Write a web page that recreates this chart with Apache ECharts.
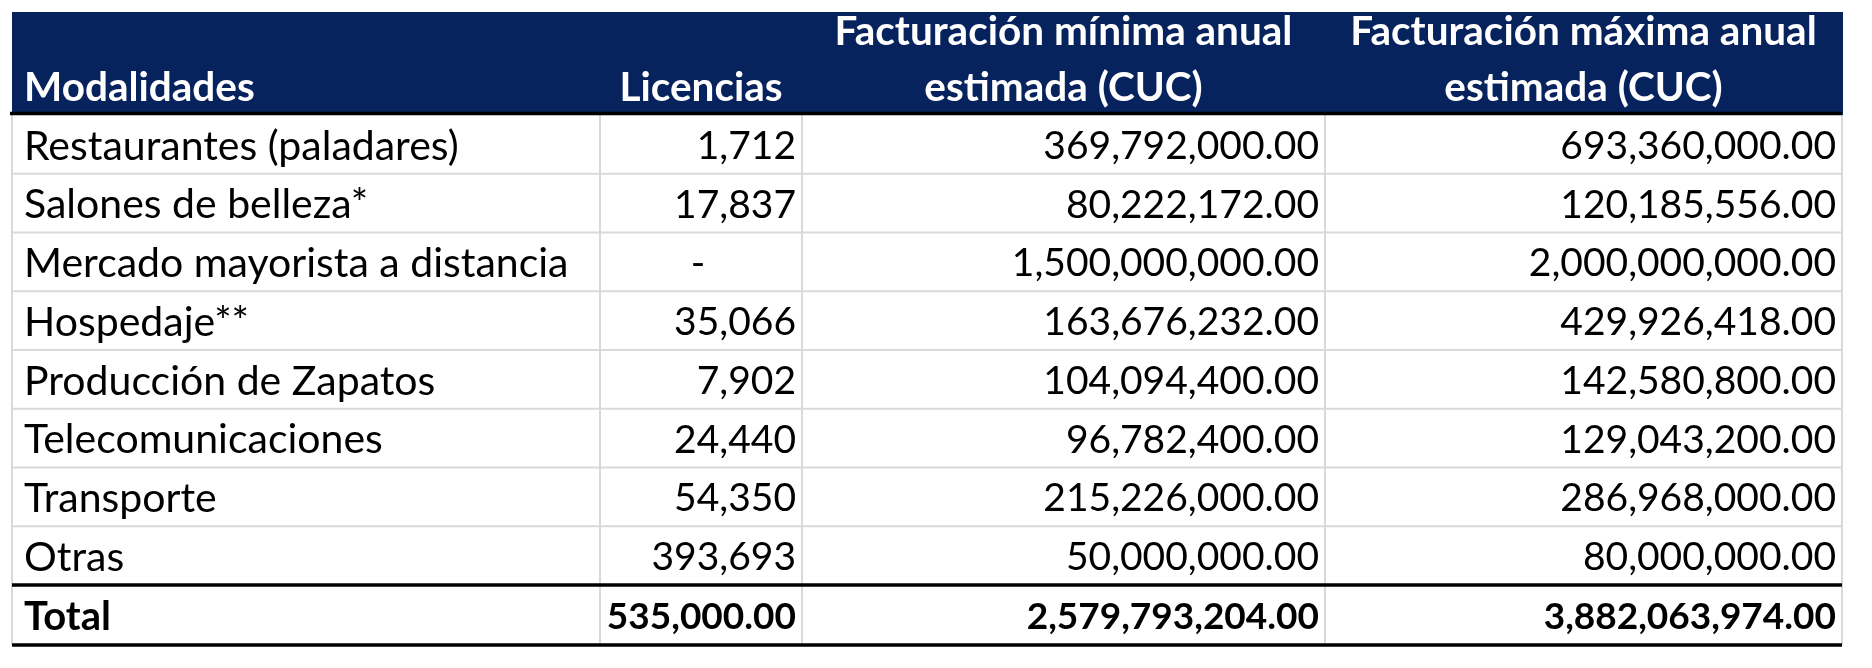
<!DOCTYPE html>
<html><head><meta charset="utf-8">
<script src="https://cdn.jsdelivr.net/npm/echarts@6/dist/echarts.min.js"></script>
<style>html,body{margin:0;padding:0;background:#fff}#c{width:1872px;height:668px}</style>
</head><body><div id="c"></div>
<script>
// ---- data ----
const headers = ['Modalidades', 'Licencias', 'Facturación mínima anual\nestimada (CUC)', 'Facturación máxima anual\nestimada (CUC)'];
const modalidades = ['Restaurantes (paladares)', 'Salones de belleza*', 'Mercado mayorista a distancia', 'Hospedaje**', 'Producción de Zapatos', 'Telecomunicaciones', 'Transporte', 'Otras'];
const licencias = [1712, 17837, null, 35066, 7902, 24440, 54350, 393693];
const factMin = [369792000, 80222172, 1500000000, 163676232, 104094400, 96782400, 215226000, 50000000];
const factMax = [693360000, 120185556, 2000000000, 429926418, 142580800, 129043200, 286968000, 80000000];
const totalLabel = 'Total';
const totalValues = [535000, 2579793204, 3882063974];

// ---- layout (not data) ----
const colEdges = [0, 588, 790, 1313, 1830];
const rowEdges = [0, 103, 161.75, 220.5, 279.25, 338, 396.75, 455.5, 514.25, 573, 633];
const FONT = 'Lato';
const FS_LABEL = 41;
const FS_LABEL_B = 40;
const FS_NUM = 39;
const FS_NUM_B = 37;
const FS_HEAD = 40.5;
const NAVY = '#07235e';
const GRAY = '#d9d9d9';

function fmt(v, dec) {
  if (v === null || v === undefined) return '-';
  return v.toLocaleString('en-US', {minimumFractionDigits: dec, maximumFractionDigits: dec});
}

// build cells
const cells = [];
headers.forEach((h, c) => cells.push({c, r: 0, text: h, kind: 'header'}));
modalidades.forEach((m, i) => {
  const r = i + 1;
  cells.push({c: 0, r, text: m, kind: 'label'});
  cells.push({c: 1, r, text: fmt(licencias[i], 0), kind: licencias[i] === null ? 'dash' : 'num'});
  cells.push({c: 2, r, text: fmt(factMin[i], 2), kind: 'num'});
  cells.push({c: 3, r, text: fmt(factMax[i], 2), kind: 'num'});
});
cells.push({c: 0, r: 9, text: totalLabel, kind: 'label', bold: true});
totalValues.forEach((v, j) => cells.push({c: j + 1, r: 9, text: fmt(v, 2), kind: 'num', bold: true}));

const cellData = cells.map(o => [colEdges[o.c], rowEdges[o.r], colEdges[o.c + 1], rowEdges[o.r + 1]]);

// grid lines
const grayLines = [];
colEdges.forEach(x => grayLines.push([x, rowEdges[1], x, rowEdges[10]]));
for (let r = 2; r <= 8; r++) grayLines.push([0, rowEdges[r], colEdges[4], rowEdges[r]]);
const blackLines = [
  [-2, rowEdges[1] - 1.5, colEdges[4], rowEdges[1] - 1.5],
  [0, rowEdges[9], colEdges[4], rowEdges[9]],
  [0, rowEdges[10], colEdges[4], rowEdges[10]]
];

function lineRender(color, width) {
  return function (params, api) {
    const p1 = api.coord([api.value(0), api.value(1)]);
    const p2 = api.coord([api.value(2), api.value(3)]);
    return {type: 'line', shape: {x1: p1[0], y1: p1[1], x2: p2[0], y2: p2[1]}, style: {stroke: color, lineWidth: width}};
  };
}

function cellRender(params, api) {
  const o = cells[params.dataIndex];
  const p1 = api.coord([api.value(0), api.value(1)]);
  const p2 = api.coord([api.value(2), api.value(3)]);
  const x0 = p1[0], y0 = p1[1], x1 = p2[0], y1 = p2[1];
  const children = [];
  if (o.kind === 'header') {
    children.push({type: 'rect', shape: {x: x0, y: y0, width: x1 - x0 + 1, height: y1 - y0}, style: {fill: NAVY}});
    const lines = o.text.split('\n');
    const align = o.c === 0 ? 'left' : 'center';
    const tx = o.c === 0 ? x0 + 12 : (x0 + x1) / 2;
    lines.forEach((ln, k) => {
      const cy = y1 - 27 - (lines.length - 1 - k) * 56;
      children.push({type: 'text', style: {text: ln, x: tx, y: cy, fill: '#ffffff', fontSize: FS_HEAD, fontFamily: FONT, fontWeight: 'bold', align, verticalAlign: 'middle'}});
    });
  } else {
    let align = 'right', tx = x1 - 6, fs = o.bold ? FS_NUM_B : FS_NUM;
    if (o.kind === 'label') { align = 'left'; tx = x0 + 12; fs = o.bold ? FS_LABEL_B : FS_LABEL; }
    if (o.kind === 'dash') { align = 'center'; tx = (x0 + x1) / 2 - 3; }
    children.push({type: 'text', style: {text: o.text, x: tx, y: (y0 + y1) / 2 + 2, fill: '#000000', fontSize: fs, fontFamily: FONT, fontWeight: o.bold ? 'bold' : 'normal', align, verticalAlign: 'middle'}});
  }
  return {type: 'group', children};
}

const chart = echarts.init(document.getElementById('c'), null, {renderer: 'canvas'});
chart.setOption({
  animation: false,
  grid: {left: 12, top: 12, width: 1830, height: 633, containLabel: false},
  xAxis: {type: 'value', min: 0, max: 1830, show: false},
  yAxis: {type: 'value', min: 0, max: 633, inverse: true, show: false},
  series: [
    {type: 'custom', name: 'cells', renderItem: cellRender, data: cellData, encode: {x: [0, 2], y: [1, 3]}, clip: false, z: 1, silent: true},
    {type: 'custom', name: 'grid', renderItem: lineRender(GRAY, 2), data: grayLines, encode: {x: [0, 2], y: [1, 3]}, clip: false, z: 2, silent: true},
    {type: 'custom', name: 'rules', renderItem: lineRender('#000000', 3.5), data: blackLines, encode: {x: [0, 2], y: [1, 3]}, clip: false, z: 3, silent: true}
  ]
});
</script></body></html>
